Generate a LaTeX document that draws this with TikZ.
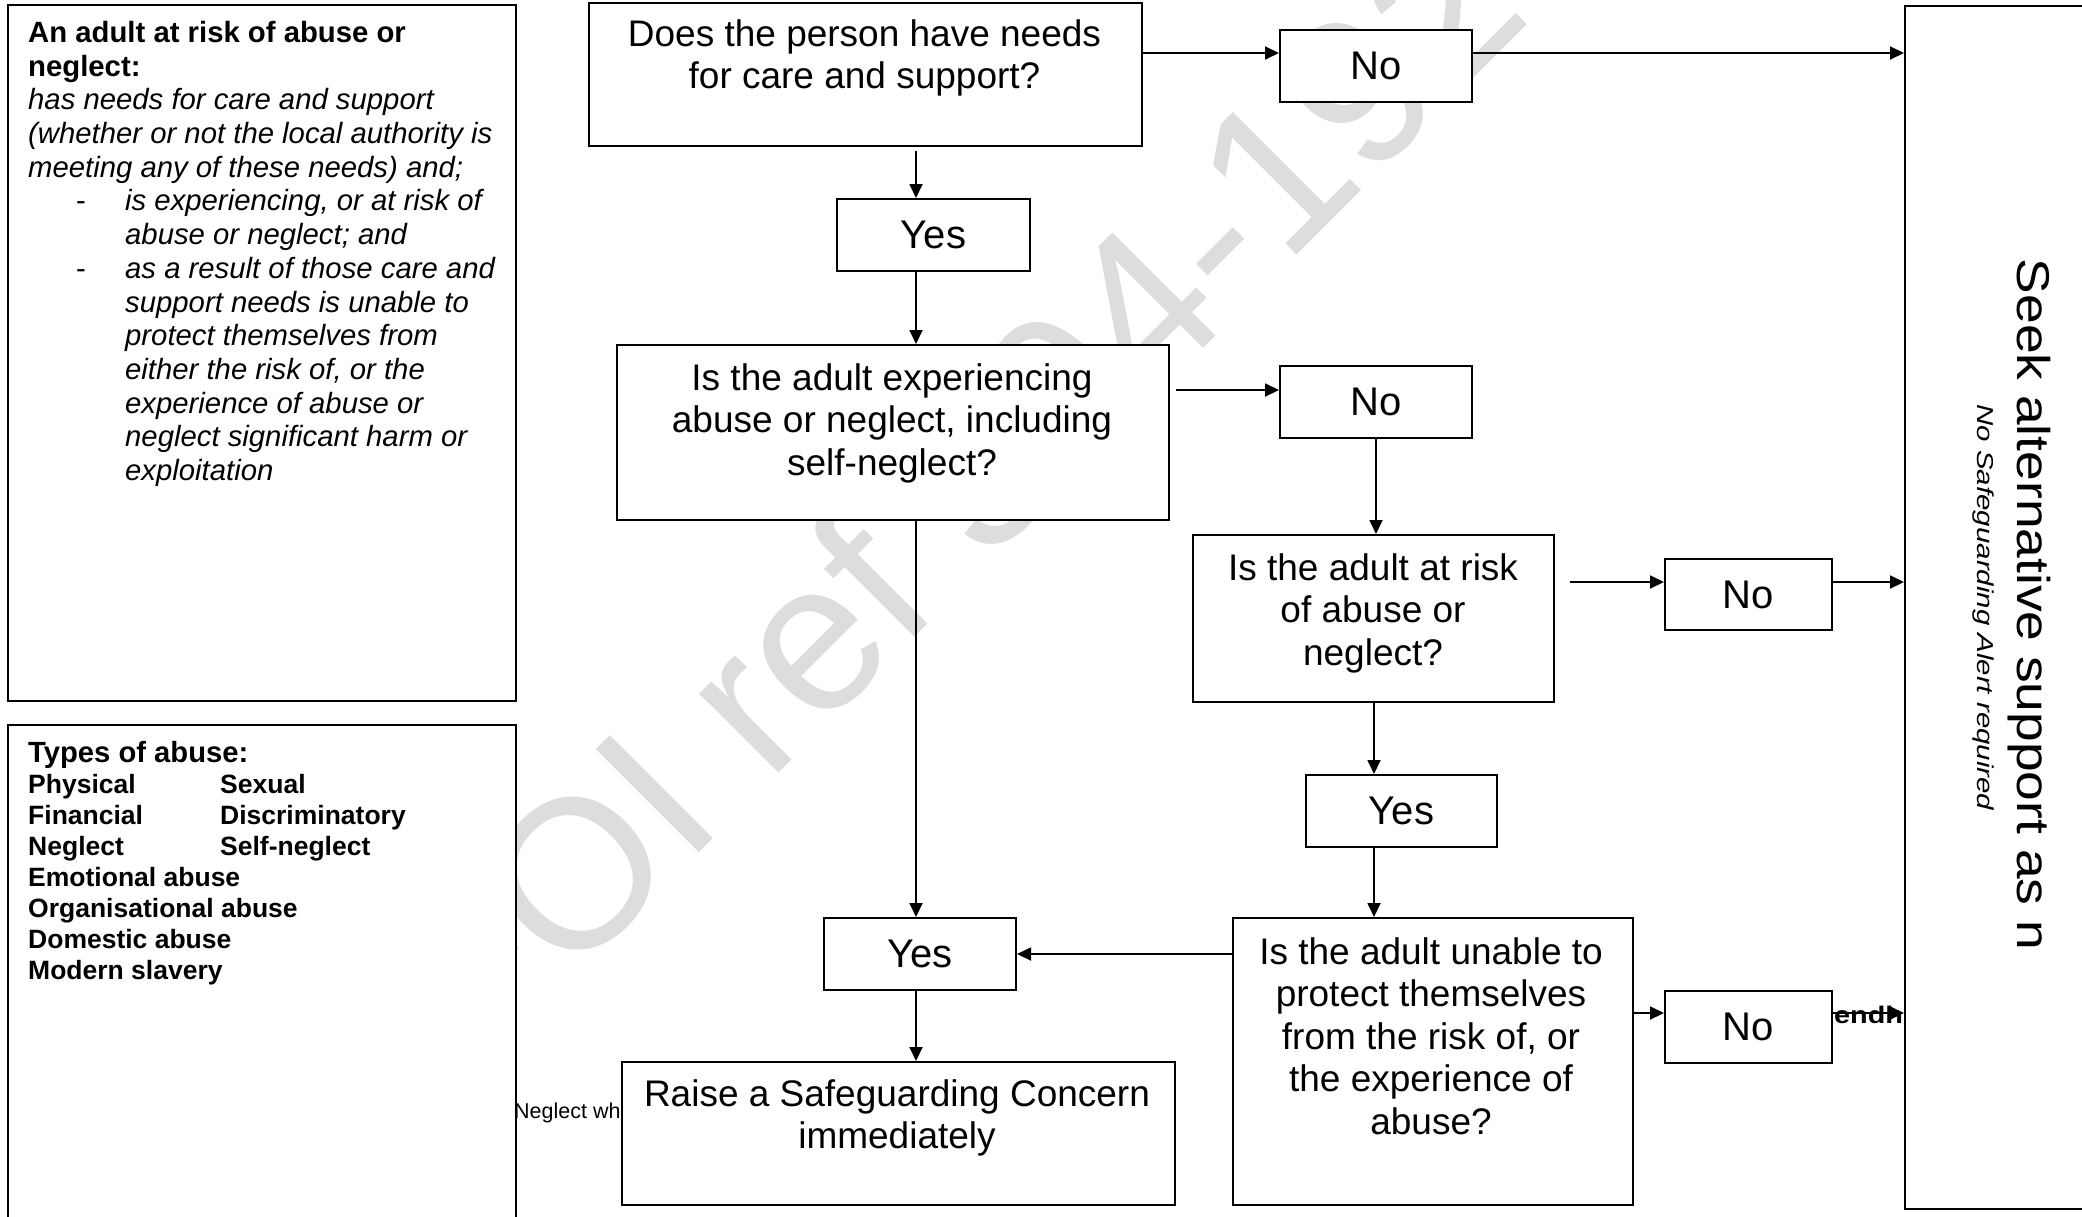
\documentclass[tikz,border=0pt]{standalone}
\usepackage{fontspec}
\setmainfont{Liberation Sans}
\usetikzlibrary{arrows.meta,calc}
\definecolor{wmgrey}{RGB}{221,221,221}
\begin{document}
\begin{tikzpicture}[x=1pt,y=-1pt,
  box/.style={draw, line width=2pt, fill=white, rectangle, inner sep=0pt, anchor=north west},
  yn/.style={box, font=\fontsize{40}{46}\selectfont},
  qtext/.style={anchor=north, align=center, inner sep=0pt, font=\fontsize{37}{42.5}\selectfont},
  arr/.style={line width=1.8pt, -{Triangle[length=14pt,width=13pt]}}
]
\useasboundingbox (0,0) rectangle (2082,1216);
% watermark
\begin{scope}
\clip (0,0) rectangle (2082,1216);
\node[rotate=45, anchor=base west, inner sep=0pt, text=wmgrey, font=\fontsize{212}{212}\selectfont] (wm) at (477,1075) {FOI ref 304-1920};
\end{scope}
% left information boxes
\node[box, minimum width=508pt, minimum height=696pt] (defbox) at (7,4) {};
\node[anchor=north west, inner sep=0pt, align=left, font=\fontsize{29.3}{33.7}\selectfont] (deftext) at (28,21) {\textbf{An adult at risk of abuse or}\\
\textbf{neglect:}\\
\textit{has needs for care and support}\\
\textit{(whether or not the local authority is}\\
\textit{meeting any of these needs) and;}\\
\makebox[97pt][l]{\hspace*{48pt}-}\textit{is experiencing, or at risk of}\\
\makebox[97pt]{}\textit{abuse or neglect; and}\\
\makebox[97pt][l]{\hspace*{48pt}-}\textit{as a result of those care and}\\
\makebox[97pt]{}\textit{support needs is unable to}\\
\makebox[97pt]{}\textit{protect themselves from}\\
\makebox[97pt]{}\textit{either the risk of, or the}\\
\makebox[97pt]{}\textit{experience of  abuse or}\\
\makebox[97pt]{}\textit{neglect significant harm or}\\
\makebox[97pt]{}\textit{exploitation}};
\node[box, minimum width=508pt, minimum height=496pt] (typesbox) at (7,724) {};
\node[anchor=base west, inner sep=0pt, font=\bfseries\fontsize{29.2}{33}\selectfont] (typestitle) at (28,762.5) {Types of abuse:};
\node[anchor=north west, inner sep=0pt, align=left, font=\bfseries\fontsize{26.5}{31}\selectfont] (typeslist) at (28,774) {\makebox[192pt][l]{Physical}Sexual\\
\makebox[192pt][l]{Financial}Discriminatory\\
\makebox[192pt][l]{Neglect}Self-neglect\\
Emotional abuse\\
Organisational abuse\\
Domestic abuse\\
Modern slavery};
\node[anchor=base west, inner sep=0pt, font=\fontsize{21.5}{25}\selectfont] (neg) at (514,1118) {Neglect whe};
% flow boxes
\node[box, minimum width=553pt, minimum height=143pt] (q1) at (588,2) {};
\node[yn, minimum width=192pt, minimum height=72pt] (no1) at (1279,29) {No};
\node[yn, minimum width=193pt, minimum height=72pt] (yes1) at (836,198) {Yes};
\node[box, minimum width=552pt, minimum height=175pt] (q2) at (616,344) {};
\node[yn, minimum width=192pt, minimum height=72pt] (no2) at (1279,365) {No};
\node[box, minimum width=361pt, minimum height=167pt] (q3) at (1192,534) {};
\node[yn, minimum width=167pt, minimum height=71pt] (no3) at (1664,558) {No};
\node[yn, minimum width=191pt, minimum height=72pt] (yes2) at (1305,774) {Yes};
\node[box, minimum width=400pt, minimum height=287pt] (q4) at (1232,917) {};
\node[yn, minimum width=167pt, minimum height=72pt] (no4) at (1664,990) {No};
\node[yn, minimum width=192pt, minimum height=72pt] (yes3) at (823,917) {Yes};
\node[box, minimum width=553pt, minimum height=143pt] (raise) at (621,1061) {};
\node[box, minimum width=180pt, minimum height=1203pt] (seek) at (1904,5) {};
% box texts
\node[qtext] (q1t) at (864.5,19) {Does the person have needs\\for care and support?};
\node[qtext] (q2t) at (892,363) {Is the adult experiencing\\abuse or neglect, including\\self-neglect?};
\node[qtext] (q3t) at (1373,553) {Is the adult at risk\\of abuse or\\neglect?};
\node[qtext] (q4t) at (1431,937) {Is the adult unable to\\protect themselves\\from the risk of, or\\the experience of\\abuse?};
\node[qtext] (raiset) at (897,1079) {Raise a Safeguarding Concern\\immediately};
\node[rotate=-90, inner sep=0pt, font=\fontsize{46}{52}\selectfont] (seekt) at (2029,604.5) {\scalebox{1.16}[1]{Seek alternative support as n}};
\node[rotate=-90, inner sep=0pt, font=\itshape\fontsize{23}{27}\selectfont] (subt) at (1983,607.5) {\scalebox{1.28}[1]{No Safeguarding Alert required}};
% connectors
\coordinate (cx) at (916,0);
\coordinate (cx3) at (1374,0);
\coordinate (r1) at (0,53);
\coordinate (r2) at (0,390);
\coordinate (r3) at (0,582);
\coordinate (r4) at (0,1013);
\draw[arr] (q1.east |- r1) -- (no1.west |- r1);
\draw[arr] (no1.east |- r1) -- (seek.west |- r1);
\draw[arr] ($(q1.south -| cx)+(0,4)$) -- (yes1.north -| cx);
\draw[arr] (yes1.south -| cx) -- (q2.north -| cx);
\draw[arr] ($(q2.east |- r2)+(6,0)$) -- (no2.west |- r2);
\draw[arr] (no2.south) -- (q3.north -| no2.south);
\draw[arr] ($(q3.east |- r3)+(15,0)$) -- (no3.west |- r3);
\draw[arr] (no3.east |- r3) -- (seek.west |- r3);
\draw[arr] (q3.south -| cx3) -- (yes2.north -| cx3);
\draw[arr] (yes2.south -| cx3) -- (q4.north -| cx3);
\draw[arr] (q4.east |- r4) -- (no4.west |- r4);
\draw[arr] (no4.east |- r4) -- (seek.west |- r4);
\draw[arr] (q4.west |- yes3.east) -- (yes3.east);
\draw[arr] (q2.south -| cx) -- (yes3.north -| cx);
\draw[arr] (yes3.south -| cx) -- (raise.north -| cx);
\node[anchor=base west, inner sep=0pt, font=\bfseries\fontsize{24}{27}\selectfont] (endh) at (1834,1023) {\scalebox{1.2}[1]{endh}};
\end{tikzpicture}
\end{document}
